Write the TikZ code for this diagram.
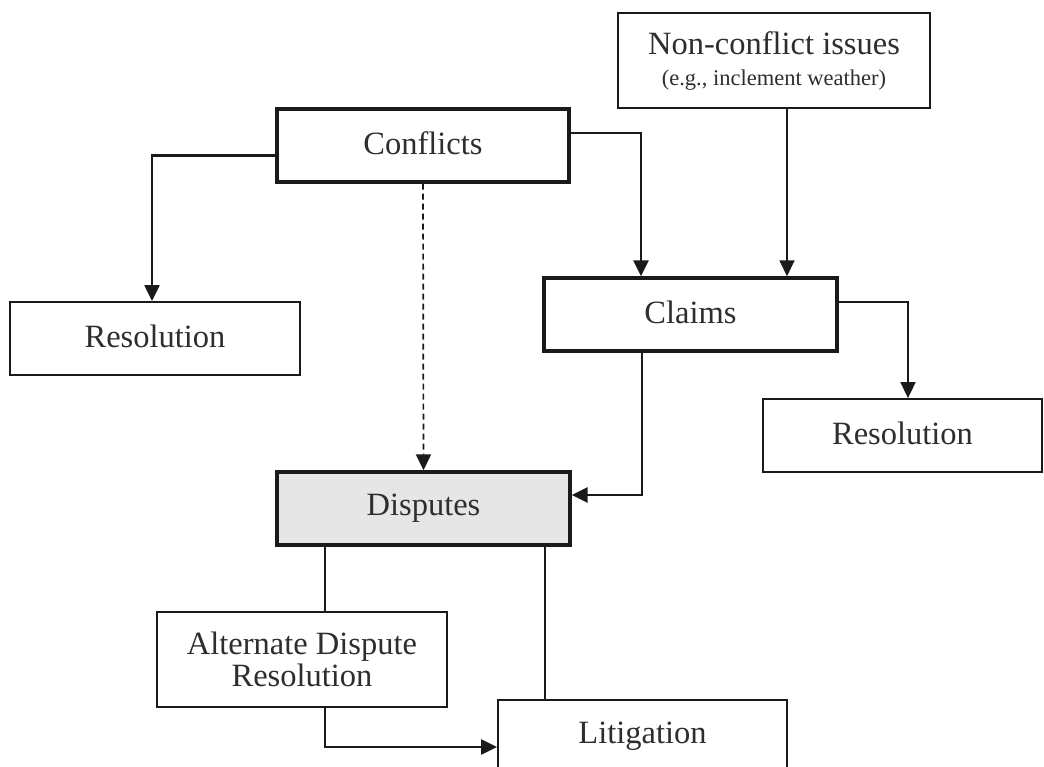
\documentclass[tikz,border=0pt]{standalone}
\usepackage{fontspec}
\setmainfont{Liberation Serif}
\usetikzlibrary{arrows.meta}
\definecolor{ink}{HTML}{1A1A1A}
\definecolor{txt}{HTML}{2E2E2E}
\definecolor{shade}{HTML}{E6E6E6}
\newcommand{\up}[2][4pt]{\raisebox{#1}{#2}}
\tikzset{
  box/.style={draw=ink, line width=1.8pt, fill=white, inner sep=0pt, align=center,
    text=txt, font=\fontsize{32.5}{36}\selectfont},
  heavybox/.style={box, line width=3.4pt},
  link/.style={draw=ink, line width=1.7pt},
  arr/.style={link, -{Triangle[length=16pt 0 0,width=15pt 0 0]}},
}
\begin{document}
\begin{tikzpicture}[x=1pt, y=-1pt]
\useasboundingbox (0,0) rectangle (1044,767);

% boxes
\node[box, minimum width=312pt, minimum height=95pt] (nonconf) at (774,60.5)
  {Non-conflict issues\\[-5pt]{\fontsize{22.5}{26}\selectfont (e.g., inclement weather)}};
\node[heavybox, minimum width=292pt, minimum height=73pt] (conflicts) at (423,145.5) {\up{Conflicts}};
\node[box, minimum width=290pt, minimum height=73pt] (resL) at (155,338.5) {\up{Resolution}};
\node[heavybox, minimum width=293pt, minimum height=73pt] (claims) at (690.5,314.5) {\up{Claims}};
\node[box, minimum width=279pt, minimum height=73pt] (resR) at (902.5,435.5) {\up{Resolution}};
\node[heavybox, fill=shade, minimum width=293pt, minimum height=73pt] (disputes) at (423.5,508.5) {\up[3pt]{Disputes}};
\node[box, minimum width=290pt, minimum height=95pt] (adr) at (302,659.5) {Alternate Dispute\\[-4pt]Resolution};
\node[box, minimum width=289pt, minimum height=73pt] (litig) at (642.5,736.5) {Litigation};

% connectors
\draw[arr, line width=2.2pt] ([yshift=-10pt]conflicts.west) -| ([xshift=-3pt]resL.north);
\draw[arr, line width=2.8pt] ([yshift=12.5pt]conflicts.east) -| ([xshift=-49.5pt]claims.north);
\draw[arr] ([xshift=13pt]nonconf.south) -- ([xshift=13pt]nonconf.south |- claims.north);
\draw[arr, dashed, dash pattern=on 6pt off 4pt] (conflicts.south) -- (disputes.north);
\draw[arr] ([yshift=12.5pt]claims.east) -| ([xshift=5.5pt]resR.north);
\draw[arr, line width=2.8pt] ([xshift=-48.5pt]claims.south) |- ([yshift=13.5pt]disputes.east);
\draw[link] ([xshift=-98.5pt]disputes.south) -- ([xshift=-98.5pt]disputes.south |- adr.north);
\draw[link] ([xshift=121.5pt]disputes.south) -- ([xshift=121.5pt]disputes.south |- litig.north);
\draw[arr, line width=2.2pt] ([xshift=23pt]adr.south) |- ([yshift=-10.5pt]litig.west);
\end{tikzpicture}
\end{document}
